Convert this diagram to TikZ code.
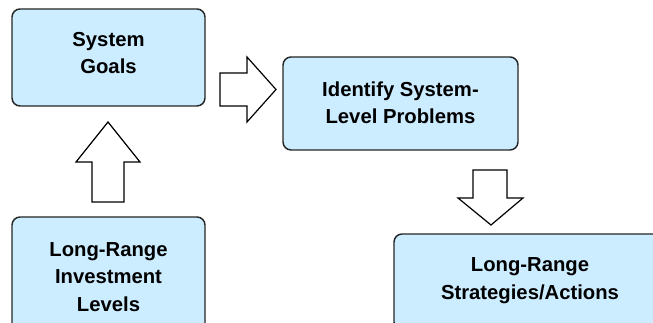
\documentclass[tikz,border=0pt]{standalone}
\usepackage{fontspec}
\setmainfont{Liberation Sans}
\begin{document}
\begin{tikzpicture}[x=0.75pt,y=-0.75pt,
  box/.style={draw=black!85, line width=1.1pt, fill=boxblue, rounded corners=6pt,
    inner sep=0pt},
  boxtext/.style={align=center, inner sep=0pt,
    font=\bfseries\fontsize{15.2}{20.6}\selectfont, text=black},
  blockarrow/.style={draw=black, line width=0.9pt, fill=white, line join=miter}]
\definecolor{boxblue}{RGB}{204,236,255}
\useasboundingbox (0,0) rectangle (653,323);
\begin{scope}
\clip (0,0) rectangle (653,323);
% process boxes
\node[box, minimum width=193*0.75pt, minimum height=97*0.75pt] (goals) at (108.5,57.5) {};
\node[box, minimum width=235*0.75pt, minimum height=93*0.75pt] (ident) at (400.5,103.5) {};
\node[box, minimum width=193*0.75pt, minimum height=128*0.75pt] (invest) at (108.5,281) {};
\node[box, minimum width=272*0.75pt, minimum height=96*0.75pt] (strat) at (530,282) {};
\end{scope}
% box labels
\node[boxtext] (goalstext) at ([yshift=4.5*0.75pt]goals.center) {System\\Goals};
\node[boxtext] (identtext) at ([yshift=1*0.75pt]ident.center) {Identify System-\\Level Problems};
\node[boxtext] (investtext) at ([yshift=4*0.75pt]invest.center) {Long-Range\\Investment\\Levels};
\node[boxtext] (strattext) at ([yshift=1.5*0.75pt]strat.center) {Long-Range\\Strategies/Actions};
% block arrows between the boxes
\draw[blockarrow] (220,73) -- (247,73) -- (247,57) -- (276,89.5) -- (247,122) -- (247,106) -- (220,106) -- cycle;
\draw[blockarrow] (92,202) -- (92,162) -- (76,162) -- (108,122) -- (140,162) -- (124,162) -- (124,202) -- cycle;
\draw[blockarrow] (473,170) -- (507,170) -- (507,198) -- (523,198) -- (491,225) -- (458,198) -- (473,198) -- cycle;
\end{tikzpicture}
\end{document}
